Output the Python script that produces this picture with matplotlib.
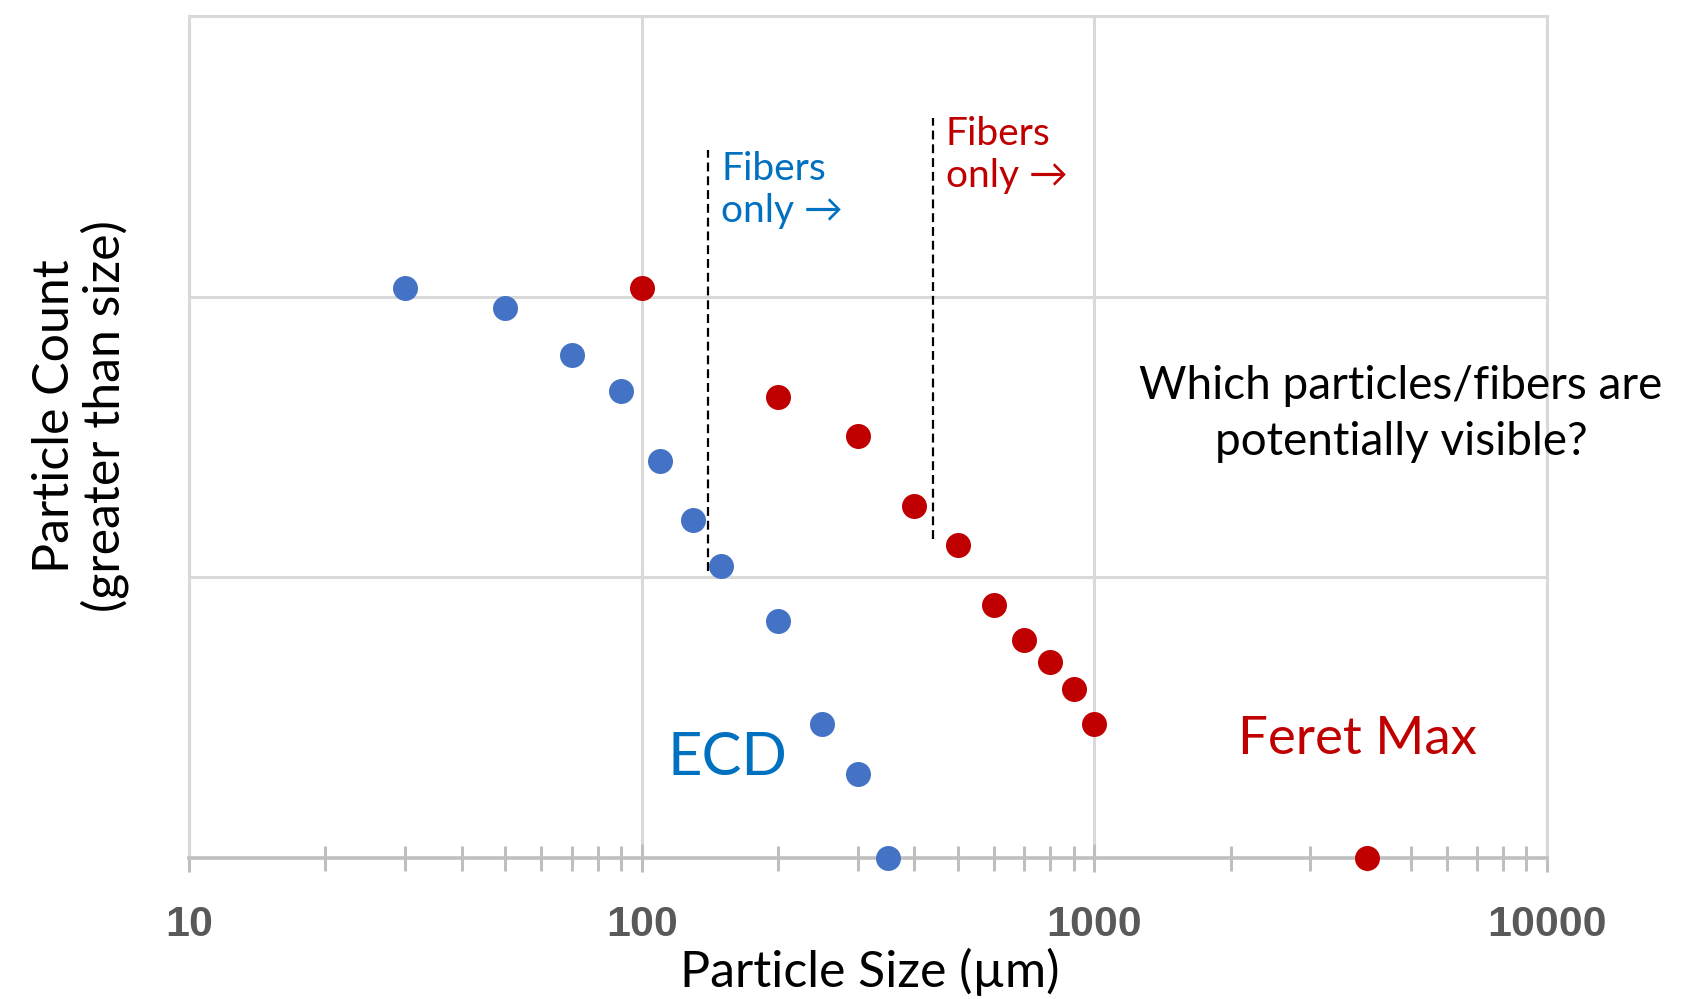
import numpy as np
from matplotlib import pyplot as plt
from matplotlib.ticker import LogLocator, NullFormatter, FixedLocator

# ECD series (blue)
ecd_size = [30, 50, 70, 90, 110, 130, 150, 200, 250, 300, 350]
ecd_count = [107, 91, 62, 46, 26, 16, 11, 7, 3, 2, 1]

# Feret max series (red)
feret_size = [100, 200, 300, 400, 500, 600, 700, 800, 900, 1000, 4000]
feret_count = [107, 44, 32, 18, 13, 8, 6, 5, 4, 3, 1]

# "fibers only" cut-offs
ecd_cut = 140
feret_cut = 440

x_ticks = [10, 100, 1000, 10000]
x_ticklabels = ['10', '100', '1000', '10000']

BLUE = '#4472C4'
RED = '#C00000'
BLUE_TXT = '#0070C0'
GRID = '#D9D9D9'
AXIS = '#BFBFBF'

plt.rcParams['font.family'] = ['Lato', 'DejaVu Sans']

fig = plt.figure(figsize=(17.06, 9.99), dpi=100)
ax = fig.add_axes([0.1108, 0.1411, 0.796, 0.8429])

ax.set_xscale('log')
ax.set_yscale('log')
ax.set_xlim(10, 10000)
ax.set_ylim(1, 1000)

ax.plot(ecd_size, ecd_count, 'o', color=BLUE, ms=18, mec='none', clip_on=False, zorder=5)
ax.plot(feret_size, feret_count, 'o', color=RED, ms=18, mec='none', clip_on=False, zorder=5)

ax.plot([ecd_cut, ecd_cut], [10.5, 333], ls=(0, (4, 2.2)), color='black', lw=1.6, zorder=4)
ax.plot([feret_cut, feret_cut], [13.7, 434], ls=(0, (4, 2.2)), color='black', lw=1.6, zorder=4)

# grid / spines
ax.grid(True, which='major', color=GRID, lw=2.2, zorder=0)
ax.set_axisbelow(True)
for s in ['top', 'right', 'left']:
    ax.spines[s].set_color(GRID)
    ax.spines[s].set_linewidth(2.2)
ax.spines['bottom'].set_color(AXIS)
ax.spines['bottom'].set_linewidth(2.6)

ax.xaxis.set_major_locator(FixedLocator(x_ticks))
ax.set_xticklabels(x_ticklabels, fontsize=31, fontweight='bold', color='#595959',
                   family=['Liberation Sans', 'DejaVu Sans'])
ax.xaxis.set_minor_locator(LogLocator(base=10, subs=np.arange(2, 10)))
ax.xaxis.set_minor_formatter(NullFormatter())
ax.tick_params(axis='x', which='major', direction='inout', length=20, width=2.2,
               color=AXIS, pad=24)
ax.tick_params(axis='x', which='minor', direction='inout', length=18, width=2.2,
               color=AXIS)
ax.tick_params(axis='y', which='both', left=False, labelleft=False)

ax.set_xlabel('Particle Size (µm)', fontsize=36)
ax.xaxis.set_label_coords(0.501, -0.135)
ax.xaxis.label.set_va('center')
ax.set_ylabel('Particle Count\n(greater than size)', fontsize=36, linespacing=1.05)
ax.yaxis.set_label_coords(-0.080, 0.525)
ax.yaxis.label.set_va('center')

# annotations
ax.text(150, 330, 'Fibers\nonly →', color=BLUE_TXT, fontsize=28, ha='left', va='top',
        linespacing=1.2)
ax.text(470, 441, 'Fibers\nonly →', color=RED, fontsize=28, ha='left', va='top',
        linespacing=1.2)
ax.text(155, 2.27, 'ECD', color=BLUE_TXT, fontsize=43, ha='center', va='center')
ax.text(3820, 2.65, 'Feret Max', color=RED, fontsize=38, ha='center', va='center')

fig.text(1401 / 1706, 1 - 414 / 999, 'Which particles/fibers are\npotentially visible?',
         fontsize=33, ha='center', va='center', linespacing=1.4)

fig.savefig('out.png', dpi=100)
